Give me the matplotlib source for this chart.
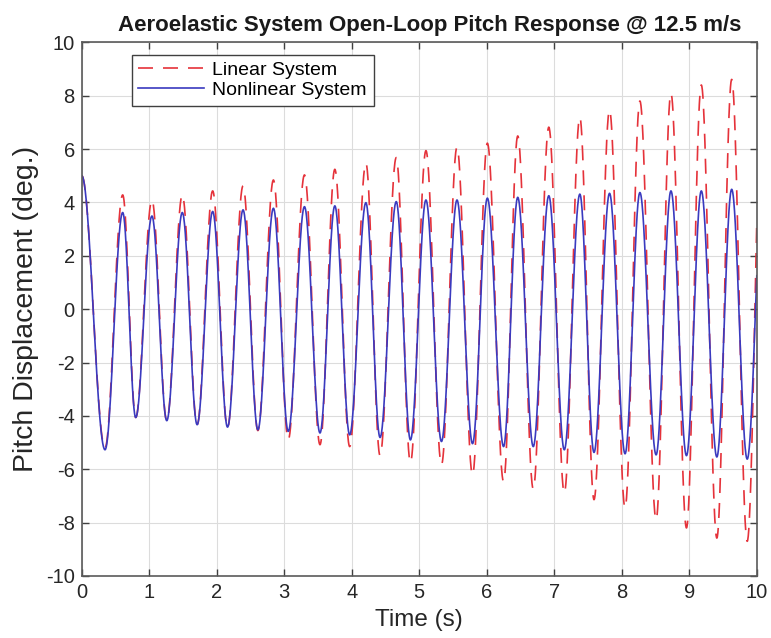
import numpy as np
import matplotlib
matplotlib.use("Agg")
import matplotlib.pyplot as plt

plt.rcParams['font.family'] = ['Liberation Sans', 'DejaVu Sans']
plt.rcParams['axes.unicode_minus'] = False

# Times (s) of successive turning points of the pitch response
extremum_times = [0.00, 0.345, 0.607, 0.80, 1.04, 1.26, 1.49, 1.71, 1.94, 2.16,
                  2.39, 2.61, 2.84, 3.06, 3.30, 3.53, 3.75, 3.97, 4.21, 4.42,
                  4.66, 4.87, 5.10, 5.33, 5.56, 5.79, 6.01, 6.25, 6.46, 6.69,
                  6.92, 7.15, 7.38, 7.59, 7.82, 8.05, 8.27, 8.51, 8.73, 8.96,
                  9.18, 9.41, 9.63, 9.86, 10.09]

# Pitch (deg.) at each turning point, linear model
linear_extrema = [5.0, -5.2, 4.28, -4.06, 4.09, -4.18, 4.28, -4.33, 4.43, -4.45,
                  4.62, -4.55, 4.84, -4.89, 5.03, -5.08, 5.24, -5.15, 5.47, -5.49,
                  5.68, -5.75, 5.94, -5.83, 6.07, -6.21, 6.22, -6.46, 6.49, -6.74,
                  6.82, -6.89, 7.19, -7.14, 7.46, -7.45, 7.80, -7.89, 8.09, -8.20,
                  8.40, -8.58, 8.61, -8.70, 8.90]

# Pitch (deg.) at each turning point, nonlinear model
nonlinear_extrema = [5.0, -5.27, 3.62, -4.06, 3.49, -4.18, 3.62, -4.33, 3.66, -4.42,
                     3.72, -4.52, 3.78, -4.58, 3.84, -4.64, 3.87, -4.71, 3.99, -4.81,
                     4.03, -4.90, 4.09, -4.96, 4.09, -5.04, 4.16, -5.15, 4.19, -5.15,
                     4.25, -5.27, 4.31, -5.37, 4.34, -5.42, 4.37, -5.46, 4.43, -5.49,
                     4.43, -5.54, 4.49, -5.62, 4.50]

x_ticks = list(range(0, 11))
y_ticks = list(range(-10, 11, 2))


def swing(times, values, n=60):
    """Join successive turning points with half-cosine swings."""
    ts, ys = [], []
    for i in range(len(times) - 1):
        t0, t1 = times[i], times[i + 1]
        y0, y1 = values[i], values[i + 1]
        s = np.linspace(0, 1, n, endpoint=False)
        ts.append(t0 + (t1 - t0) * s)
        ys.append(y0 + (y1 - y0) * (1 - np.cos(np.pi * s)) / 2)
    ts.append([times[-1]])
    ys.append([values[-1]])
    return np.concatenate(ts), np.concatenate(ys)


t_lin, y_lin = swing(extremum_times, linear_extrema)
t_nl, y_nl = swing(extremum_times, nonlinear_extrema)

fig = plt.figure(figsize=(7.71, 6.38), dpi=100)
ax = fig.add_axes([0.106, 0.0972, 0.8754, 0.8365])

ax.plot(t_lin, y_lin, color='#e5323a', lw=1.2, dashes=(9, 6), label='Linear System')
ax.plot(t_nl, y_nl, color='#3a3abf', lw=1.2, label='Nonlinear System')

ax.set_xlim(0, 10)
ax.set_ylim(-10, 10)
ax.set_xticks(x_ticks)
ax.set_yticks(y_ticks)
ax.grid(True, color='#dcdcdc', lw=0.8)
ax.set_axisbelow(True)
ax.tick_params(direction='in', top=True, right=True, length=5, width=1.0,
               color='#404040', labelsize=14.5, labelcolor='#262626', pad=5)
for sp in ax.spines.values():
    sp.set_color('#5a5a5a')
    sp.set_linewidth(1.2)

ax.set_xlabel('Time (s)', fontsize=17.5, color='#262626', labelpad=5)
ax.set_ylabel('Pitch Displacement (deg.)', fontsize=20.5, color='#262626', labelpad=5)
ax.set_title('Aeroelastic System Open-Loop Pitch Response @ 12.5 m/s',
             fontsize=16, fontweight='bold', color='#1a1a1a', pad=8, x=0.516)

leg = ax.legend(loc='upper left', bbox_to_anchor=(0.074, 0.977), fontsize=14,
                frameon=True, fancybox=False, framealpha=1, edgecolor='#404040',
                handlelength=3.35, handletextpad=0.45, borderpad=0.35,
                labelspacing=0.12, borderaxespad=0)
leg.get_frame().set_linewidth(1.0)

fig.savefig('out.png', dpi=100)
